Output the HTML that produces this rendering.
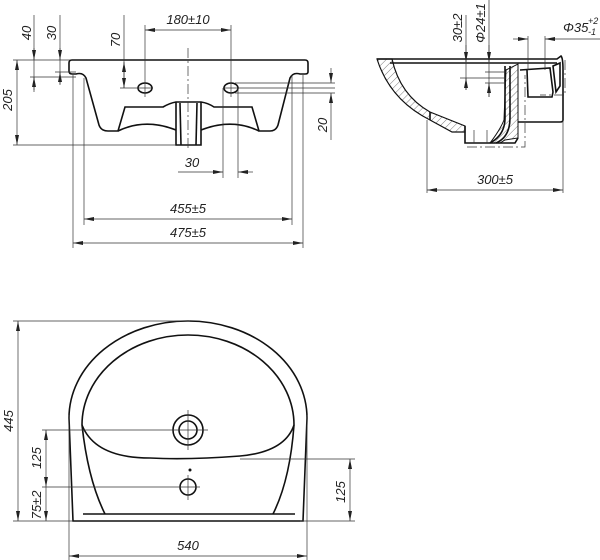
<!DOCTYPE html>
<html><head><style>
html,body{margin:0;padding:0;background:#fff;}
svg{display:block;}
text{font-family:"Liberation Sans",sans-serif;font-style:italic;font-size:13px;fill:#222;}
.o{fill:none;stroke:#111;stroke-width:1.6;}
.t{fill:none;stroke:#333;stroke-width:0.7;}
.c{fill:none;stroke:#333;stroke-width:0.7;stroke-dasharray:10 3 2 3;}
</style></head><body>
<svg width="600" height="560" viewBox="0 0 600 560" xmlns="http://www.w3.org/2000/svg">
<defs>
<marker id="a" viewBox="0 0 10 4" refX="10" refY="2" markerWidth="10" markerHeight="4" orient="auto-start-reverse" markerUnits="userSpaceOnUse"><path d="M0,0 L10,2 L0,4 z" fill="#222"/></marker>
<pattern id="h" width="5" height="5" patternUnits="userSpaceOnUse" patternTransform="rotate(45)"><line x1="0" y1="0" x2="0" y2="5" stroke="#444" stroke-width="0.7"/></pattern>
</defs>

<!-- FRONT VIEW -->
<path class="o" d="M72,60 L305,60 Q308,60 308,63 L308,72 Q308,74 305,74 L300,74 Q293,72 290,78 L278,125 Q276,131 270,131 L259,131 L252,107 L214,107 Q208,103 201,102 L176,102 Q170,103 163,107 L125,107 L118,131 L108,131 Q101,131 99,125 L86,78 Q83,72 76,74 L72,74 Q69,74 69,71 L69,63 Q69,60 72,60 Z"/>
<path class="o" d="M118,131 Q145,118 176,130 M201,130 Q232,118 259,131"/>
<path class="o" d="M176,102 L176,145 L201,145 L201,102"/>
<line class="o" x1="180" y1="103" x2="181" y2="145"/><line class="o" x1="197" y1="103" x2="196" y2="145"/>
<ellipse class="o" cx="145" cy="88" rx="7" ry="5"/><ellipse class="o" cx="231" cy="88" rx="7" ry="5"/>
<line class="c" x1="188" y1="48" x2="188" y2="150"/>
<!-- dims front -->
<line class="t" x1="145" y1="25" x2="145" y2="97"/><line class="t" x1="231" y1="25" x2="231" y2="97"/>
<line class="t" x1="145" y1="30" x2="231" y2="30" marker-start="url(#a)" marker-end="url(#a)"/>
<text x="188" y="24" text-anchor="middle">180±10</text>
<line class="t" x1="124" y1="15" x2="124" y2="88"/><line class="t" x1="120" y1="88" x2="153" y2="88"/>
<line class="t" x1="124" y1="62" x2="124" y2="88" marker-start="url(#a)" marker-end="url(#a)"/>
<text transform="translate(120,40) rotate(-90)" text-anchor="middle">70</text>
<line class="t" x1="34" y1="15" x2="34" y2="92"/><line class="t" x1="34" y1="48" x2="34" y2="60" marker-end="url(#a)"/><line class="t" x1="34" y1="90" x2="34" y2="77" marker-end="url(#a)"/>
<line class="t" x1="60" y1="15" x2="60" y2="85"/><line class="t" x1="60" y1="48" x2="60" y2="60" marker-end="url(#a)"/><line class="t" x1="60" y1="84" x2="60" y2="72" marker-end="url(#a)"/>
<line class="t" x1="13" y1="60" x2="70" y2="60"/><line class="t" x1="30" y1="77" x2="76" y2="77"/><line class="t" x1="55" y1="72" x2="76" y2="72"/>
<text transform="translate(31,33) rotate(-90)" text-anchor="middle">40</text>
<text transform="translate(56,33) rotate(-90)" text-anchor="middle">30</text>
<line class="t" x1="13" y1="145" x2="176" y2="145"/>
<line class="t" x1="17" y1="60" x2="17" y2="145" marker-start="url(#a)" marker-end="url(#a)"/>
<text transform="translate(12,100) rotate(-90)" text-anchor="middle">205</text>
<line class="t" x1="223" y1="88" x2="335" y2="88"/><line class="t" x1="235" y1="83" x2="335" y2="83"/><line class="t" x1="235" y1="93" x2="335" y2="93"/>
<line class="t" x1="331" y1="68" x2="331" y2="83" marker-end="url(#a)"/><line class="t" x1="331" y1="140" x2="331" y2="93" marker-end="url(#a)"/>
<text transform="translate(327,125) rotate(-90)" text-anchor="middle">20</text>
<line class="t" x1="223" y1="88" x2="223" y2="178"/><line class="t" x1="238" y1="88" x2="238" y2="178"/>
<line class="t" x1="178" y1="172" x2="223" y2="172" marker-end="url(#a)"/><line class="t" x1="253" y1="172" x2="238" y2="172" marker-end="url(#a)"/>
<text x="192" y="167" text-anchor="middle">30</text>
<line class="t" x1="84" y1="78" x2="84" y2="225"/><line class="t" x1="292" y1="75" x2="292" y2="225"/>
<line class="t" x1="84" y1="219" x2="292" y2="219" marker-start="url(#a)" marker-end="url(#a)"/>
<text x="188" y="213" text-anchor="middle">455±5</text>
<line class="t" x1="73" y1="75" x2="73" y2="248"/><line class="t" x1="303" y1="75" x2="303" y2="248"/>
<line class="t" x1="73" y1="243" x2="303" y2="243" marker-start="url(#a)" marker-end="url(#a)"/>
<text x="188" y="237" text-anchor="middle">475±5</text>

<!-- SIDE VIEW -->
<path d="M377,59 L392,59 Q400,95 430,112 L465,126 L465,132 L452,132 L430,120 Q390,100 377,59 Z" fill="url(#h)" stroke="#111" stroke-width="1.2"/>
<path d="M506,70 L518,64 L518,138 L505,140 L500,143 L490,143 Q500,130 504,120 Z" fill="url(#h)" stroke="#111" stroke-width="1"/>
<path class="o" d="M377,59 L557,59 L561,56 Q563,58 563,70 L563,120 Q563,122 560,122 L518,122"/>
<line class="o" x1="390" y1="63" x2="557" y2="63"/>
<path class="o" d="M430,120 L430,112 M465,126 L465,143 L515,143 L518,138"/>
<path class="o" d="M505,66 L505,118 Q505,135 490,143 M510,66 L510,118 Q510,137 496,143"/>
<path class="o" d="M520,70 L550,68 L553,92 L552,97 L528,97 L527,70"/>
<path class="o" d="M553,66 L560,63 L560,86 L556,92 Z"/>
<line class="t" x1="474" y1="130" x2="474" y2="143"/><line class="t" x1="487" y1="130" x2="487" y2="143"/>
<path class="c" d="M467,147 L525,147 L525,75 M565,60 L565,95 L540,95"/>
<!-- side dims -->
<line class="t" x1="466" y1="15" x2="466" y2="90"/><line class="t" x1="466" y1="45" x2="466" y2="62" marker-end="url(#a)"/><line class="t" x1="466" y1="90" x2="466" y2="78" marker-end="url(#a)"/>
<line class="t" x1="460" y1="78" x2="506" y2="78"/>
<text transform="translate(462,28) rotate(-90)" text-anchor="middle">30±2</text>
<line class="t" x1="489" y1="0" x2="489" y2="97"/><line class="t" x1="489" y1="45" x2="489" y2="62" marker-end="url(#a)"/><line class="t" x1="489" y1="97" x2="489" y2="83" marker-end="url(#a)"/>
<line class="t" x1="485" y1="72" x2="506" y2="72"/><line class="t" x1="485" y1="83" x2="506" y2="83"/>
<text transform="translate(485,23) rotate(-90)" text-anchor="middle">Φ24±1</text>
<line class="t" x1="528" y1="36" x2="528" y2="70"/><line class="t" x1="545" y1="36" x2="545" y2="70"/>
<line class="t" x1="513" y1="39" x2="528" y2="39" marker-end="url(#a)"/><line class="t" x1="600" y1="39" x2="545" y2="39" marker-end="url(#a)"/>
<text x="563" y="32">Φ35</text><text x="588" y="24" style="font-size:9px">+2</text><text x="588" y="35" style="font-size:9px">-1</text>
<line class="t" x1="427" y1="120" x2="427" y2="193"/><line class="t" x1="563" y1="120" x2="563" y2="193"/>
<line class="t" x1="427" y1="190" x2="563" y2="190" marker-start="url(#a)" marker-end="url(#a)"/>
<text x="495" y="184" text-anchor="middle">300±5</text>

<!-- TOP VIEW -->
<path class="o" d="M73,521 L69,418 A119,97 0 0 1 307,418 L303,521 Z"/>
<path class="o" d="M82,425 A106,90 0 0 1 294,425"/>
<path class="o" d="M82,425 Q95,458 150,458 Q188,460 240,456 Q285,452 294,425"/>
<path class="o" d="M82,425 Q88,480 105,514 M294,425 Q290,480 273,514"/>
<line class="o" x1="83" y1="514" x2="295" y2="514"/>
<circle class="o" cx="188" cy="430" r="15"/><circle class="o" cx="188" cy="430" r="9"/>
<circle class="o" cx="188" cy="487" r="8"/><circle cx="190" cy="470" r="1.5" fill="#111"/>
<line class="t" x1="188" y1="410" x2="188" y2="450"/><line class="t" x1="188" y1="475" x2="188" y2="500"/>
<!-- top dims -->
<line class="t" x1="13" y1="321" x2="190" y2="321"/><line class="t" x1="13" y1="521" x2="73" y2="521"/>
<line class="t" x1="18" y1="321" x2="18" y2="521" marker-start="url(#a)" marker-end="url(#a)"/>
<text transform="translate(13,421) rotate(-90)" text-anchor="middle">445</text>
<line class="t" x1="42" y1="430" x2="208" y2="430"/><line class="t" x1="42" y1="487" x2="200" y2="487"/>
<line class="t" x1="46" y1="430" x2="46" y2="487" marker-start="url(#a)" marker-end="url(#a)"/>
<line class="t" x1="46" y1="487" x2="46" y2="521" marker-end="url(#a)"/>
<text transform="translate(41,458) rotate(-90)" text-anchor="middle">125</text>
<text transform="translate(41,505) rotate(-90)" text-anchor="middle">75±2</text>
<line class="t" x1="240" y1="459" x2="355" y2="459"/><line class="t" x1="300" y1="521" x2="355" y2="521"/>
<line class="t" x1="350" y1="459" x2="350" y2="521" marker-start="url(#a)" marker-end="url(#a)"/>
<text transform="translate(345,492) rotate(-90)" text-anchor="middle">125</text>
<line class="t" x1="69" y1="415" x2="69" y2="560"/><line class="t" x1="307" y1="415" x2="307" y2="560"/>
<line class="t" x1="69" y1="556" x2="307" y2="556" marker-start="url(#a)" marker-end="url(#a)"/>
<text x="188" y="550" text-anchor="middle">540</text>
</svg>
</body></html>
